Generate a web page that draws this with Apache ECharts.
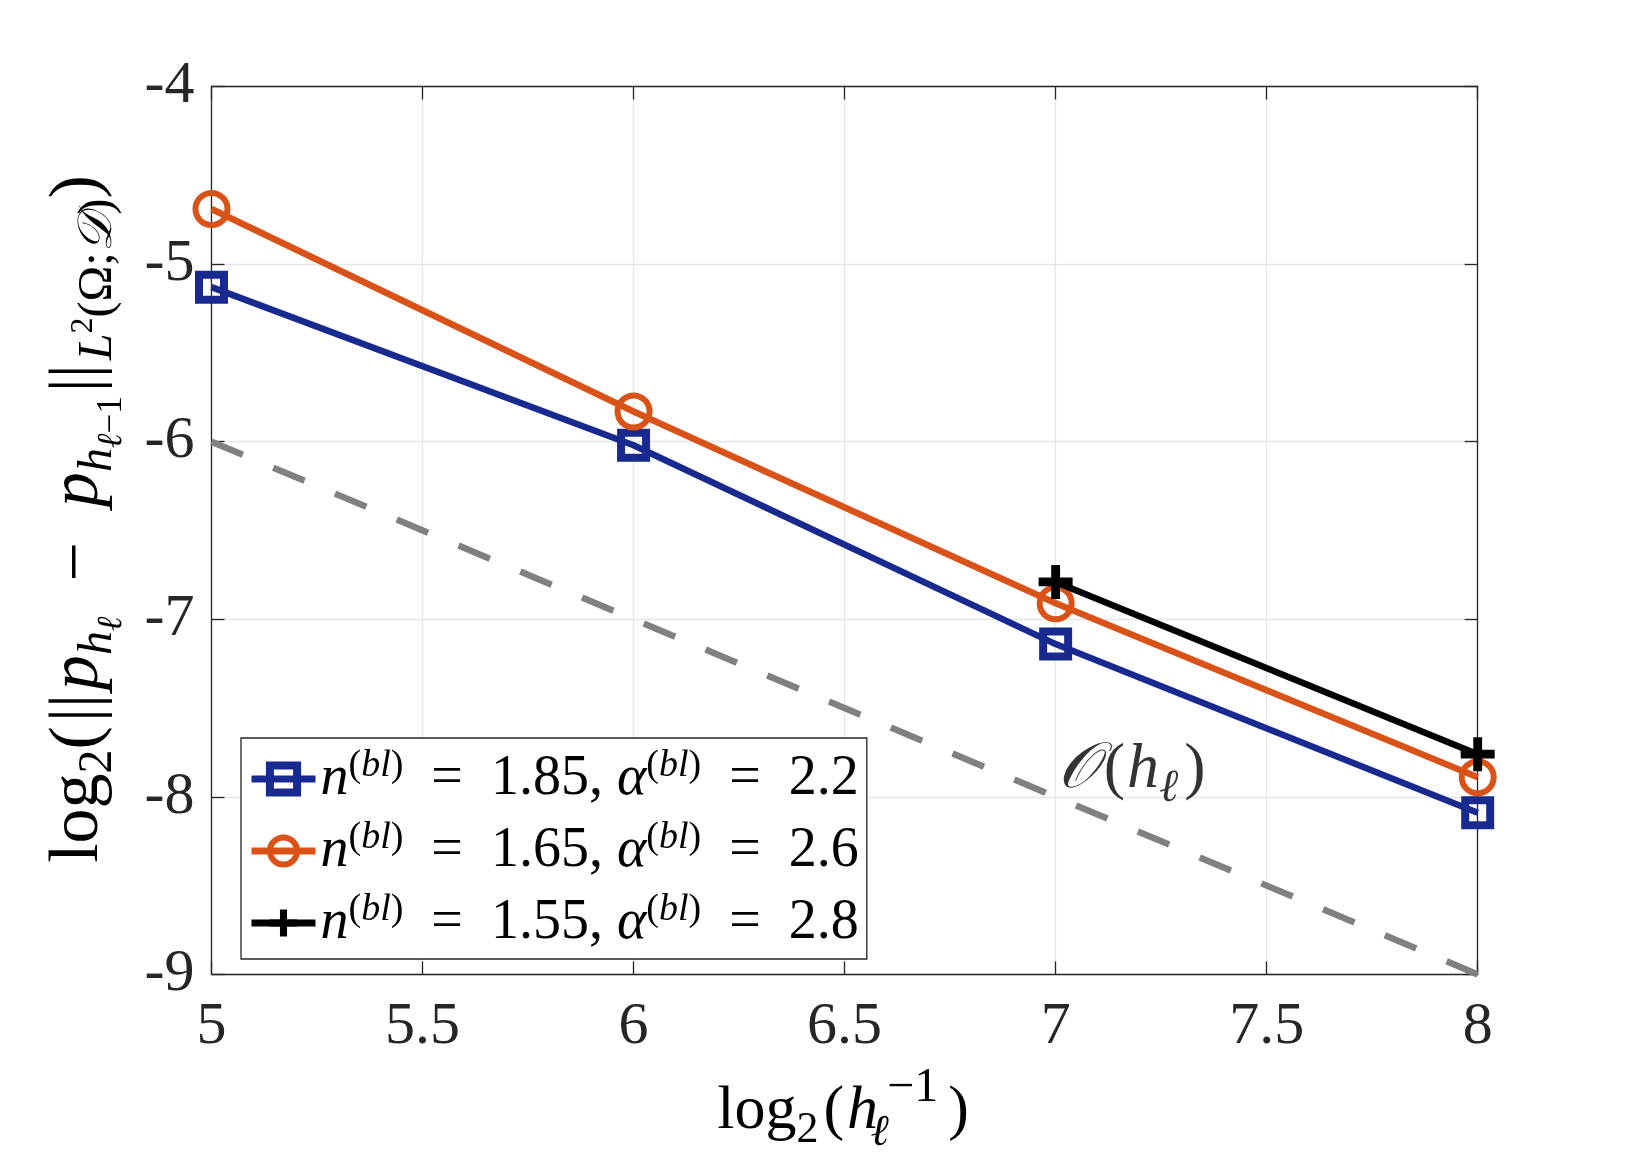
<!DOCTYPE html>
<html><head><meta charset="utf-8">
<script src="https://cdn.jsdelivr.net/npm/echarts@6.0.0/dist/echarts.min.js"></script>
<style>html,body{margin:0;padding:0;background:#fff}#c{width:1634px;height:1153px}</style>
</head><body><div id="c"></div>
<script>
// ---- data ----
const xValues = [5, 6, 7, 8];
const blueValues = [-5.13, -6.02, -7.14, -8.09];
const orangeValues = [-4.69, -5.83, -6.91, -7.89];
const blackXValues = [7, 8];
const blackValues = [-6.79, -7.76];
const refXValues = [5, 8];
const refValues = [-6, -9];
const seriesNames = ['s185', 's165', 's155'];
const nValues = ['1.85', '1.65', '1.55'];
const alphaValues = ['2.2', '2.6', '2.8'];
const xTickRange = [5, 8, 0.5];
const yTickRange = [-9, -4, 1];
const annotation = [7.005, -7.85];

const FONT = '"Liberation Serif", "DejaVu Serif", serif';
const TXT = '#000';
const BLUE = '#18298f', ORANGE = '#d95319', BLACK = '#000', GREY = '#808080';

// rich token: every token has the same line height H; its own glyph centre sits at `center`
function tok(H, size, center, extra, padL, padR) {
  const top = Math.round(center - size / 2);
  return Object.assign({
    fontSize: size, height: size, lineHeight: H, fontFamily: FONT, color: TXT,
    verticalAlign: 'top', padding: [top, padR || 0, H - top - size, padL || 0]
  }, extra || {});
}
const IT = {fontStyle: 'italic'};

// legend rich
const LH = 72;
const legendRich = {
  n: tok(LH, 56, 36, IT),
  r: tok(LH, 56, 36),
  a: tok(LH, 56, 36, IT),
  sp: tok(LH, 38, 23),
  si: tok(LH, 38, 23, IT)
};
function legendText(i) {
  return '{n|n}{sp|(}{si|bl}{sp|)}{r|  =  ' + nValues[i] + ', }{a|α}{sp|(}{si|bl}{sp|)}{r|  =  ' + alphaValues[i] + '}';
}

// annotation rich
const AH = 100;
const annRich = {
  cal: tok(AH, 64, 50, IT, 0, 4),
  rm: tok(AH, 64, 50, null, 2, 2),
  it: tok(AH, 64, 50, IT),
  sub: tok(AH, 46, 69, IT, 0, 4)
};

// x axis label rich
const XH = 100;
const xRich = {
  rm: tok(XH, 62, 50),
  rmp: tok(XH, 62, 50, null, 5, 3),
  it: tok(XH, 62, 50, IT),
  sub: tok(XH, 44, 68),
  subl: tok(XH, 44, 71, {fontStyle: 'italic', width: 3}),
  sup: tok(XH, 48, 26, null, 6, 10)
};

// y axis label rich
const YH = 120;
const yRich = {
  rm: tok(YH, 70, 56),
  rmb: tok(YH, 70, 56, null, 4, 4),
  it: tok(YH, 70, 56, IT),
  sub: tok(YH, 48, 75),
  subi: tok(YH, 48, 75, IT),
  ssi: tok(YH, 35, 88, IT),
  ss: tok(YH, 35, 88),
  ssup: tok(YH, 32, 61)
};

const chart = echarts.init(document.getElementById('c'));
const axisLineStyle = {color: '#262626', width: 1.3};
function xAx(pos, main) {
  return {
    type: 'value', min: xTickRange[0], max: xTickRange[1], interval: xTickRange[2], position: pos,
    axisLine: {show: true, onZero: false, lineStyle: axisLineStyle},
    axisTick: {show: true, inside: true, length: 13, lineStyle: axisLineStyle},
    axisLabel: {show: main, fontFamily: FONT, fontSize: 60, color: '#262626', margin: 23},
    splitLine: {show: main, lineStyle: {color: '#e6e6e6', width: 1.3}}
  };
}
function yAx(pos, main) {
  return {
    type: 'value', min: yTickRange[0], max: yTickRange[1], interval: yTickRange[2], position: pos,
    axisLine: {show: true, onZero: false, lineStyle: axisLineStyle},
    axisTick: {show: true, inside: true, length: 13, lineStyle: axisLineStyle},
    axisLabel: {show: main, fontFamily: FONT, fontSize: 60, color: '#262626', margin: 17},
    splitLine: {show: main, lineStyle: {color: '#e6e6e6', width: 1.3}}
  };
}
const plusPath = 'path://M3.7,0h2.6v3.7h3.7v2.6h-3.7v3.7h-2.6v-3.7h-3.7v-2.6h3.7z';
const clear = 'rgba(0,0,0,0)';

chart.setOption({
  animation: false,
  backgroundColor: '#fff',
  grid: {left: 211.5, top: 86.5, right: 156.3, bottom: 178.6, containLabel: false},
  xAxis: [xAx('bottom', true), xAx('top', false)],
  yAxis: [yAx('left', true), yAx('right', false)],
  legend: {
    data: [
      {name: seriesNames[0], itemStyle: {color: clear, borderColor: BLUE, borderWidth: 8}, lineStyle: {color: BLUE, width: 7}},
      {name: seriesNames[1], itemStyle: {color: clear, borderColor: ORANGE, borderWidth: 6}, lineStyle: {color: ORANGE, width: 7}},
      {name: seriesNames[2], itemStyle: {color: BLACK, borderWidth: 0}, lineStyle: {color: BLACK, width: 7}}
    ],
    orient: 'vertical', left: 241, top: 738,
    padding: [5, 8, 0, 7], itemGap: 0, itemWidth: 64, itemHeight: 34,
    borderColor: '#262626', borderWidth: 1.3, backgroundColor: '#fff',
    formatter: function (name) { return legendText(seriesNames.indexOf(name)); },
    textStyle: {rich: legendRich}
  },
  series: [
    {type: 'line', name: 'ref', data: refXValues.map((x, i) => [x, refValues[i]]), symbol: 'none',
     lineStyle: {color: GREY, width: 6.5, type: [34, 33]}, silent: true, z: 1},
    {type: 'line', name: seriesNames[0], data: xValues.map((x, i) => [x, blueValues[i]]),
     symbol: 'rect', symbolSize: 25,
     itemStyle: {color: clear, borderColor: BLUE, borderWidth: 8},
     lineStyle: {color: BLUE, width: 6.5}, z: 3},
    {type: 'line', name: seriesNames[1], data: xValues.map((x, i) => [x, orangeValues[i]]),
     symbol: 'circle', symbolSize: 32,
     itemStyle: {color: clear, borderColor: ORANGE, borderWidth: 6},
     lineStyle: {color: ORANGE, width: 6.5}, z: 4},
    {type: 'line', name: seriesNames[2], data: blackXValues.map((x, i) => [x, blackValues[i]]),
     symbol: plusPath, symbolSize: 34, symbolKeepAspect: true,
     itemStyle: {color: BLACK, borderWidth: 0},
     lineStyle: {color: BLACK, width: 6.5}, z: 5},
    {type: 'scatter', name: 'ann', data: [annotation], symbolSize: 0, silent: true,
     label: {show: true, position: 'right', distance: 0,
       formatter: '{cal|𝒪}{rm|(}{it|h}{sub|ℓ}{rm|)}', rich: annRich}}
  ],
  graphic: [
    {type: 'text', x: 843, y: 1112, style: {
      text: '{rm|log}{sub|2}{rmp|(}{it|h}{subl|ℓ}{sup|−1}{rm|)}', rich: xRich,
      align: 'center', verticalAlign: 'middle'}},
    {type: 'text', x: 83, y: 519, rotation: Math.PI / 2, style: {
      text: '{rm|log}{sub|2}{rm|(}{rmb|||}{it|p}{subi|h}{ssi|ℓ}{rm|  −  }{it|p}{subi|h}{ssi|ℓ}{ss|−1}{rmb|||}{subi|L}{ssup|2}{sub|(Ω;}{subi|𝒟}{sub|)}{rm|)}',
      rich: yRich, align: 'center', verticalAlign: 'middle'}}
  ]
});
</script></body></html>
